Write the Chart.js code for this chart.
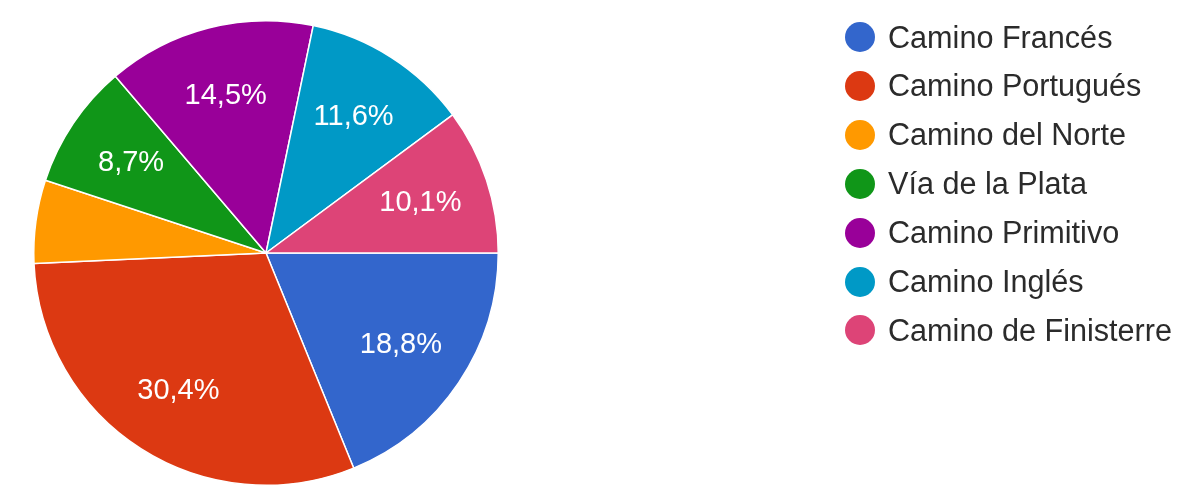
<!DOCTYPE html>
<html>
<head>
<meta charset="utf-8">
<script src="https://cdn.jsdelivr.net/npm/chart.js@4.4.0/dist/chart.umd.min.js"></script>
<style>
html,body{margin:0;padding:0;background:#fff;}
#wrap{position:relative;width:1200px;height:502px;overflow:hidden;}
#box{position:absolute;left:0;top:0;width:1200px;height:502px;}
#legend{position:absolute;left:845px;top:0;font-family:"Liberation Sans",Arial,sans-serif;font-size:30.6px;color:#2b2b2b;}
.item{position:absolute;left:0;height:40px;display:flex;align-items:center;white-space:nowrap;}
.dot{width:30px;height:30px;border-radius:50%;margin-right:13px;flex:none;}
</style>
</head>
<body>
<div id="wrap">
  <div id="box"><canvas id="c"></canvas></div>
  <div id="legend"></div>
</div>
<script>
const categories = ["Camino Francés","Camino Portugués","Camino del Norte","Vía de la Plata","Camino Primitivo","Camino Inglés","Camino de Finisterre"];
const counts = [13, 21, 4, 6, 10, 8, 7];
const colors = ["#3366cc","#dc3912","#ff9900","#109618","#990099","#0099c6","#dd4477"];

const total = counts.reduce((a, b) => a + b, 0);

const sliceLabels = {
  id: 'sliceLabels',
  afterDatasetsDraw(chart) {
    const ctx = chart.ctx;
    const meta = chart.getDatasetMeta(0);
    ctx.save();
    ctx.fillStyle = '#ffffff';
    ctx.font = '29px "Liberation Sans", Arial, sans-serif';
    ctx.textAlign = 'center';
    ctx.textBaseline = 'middle';
    meta.data.forEach((arc, i) => {
      const pct = counts[i] / total * 100;
      if (pct < 7) return;
      const p = arc.getProps(['startAngle','endAngle','outerRadius','x','y'], true);
      const mid = (p.startAngle + p.endAngle) / 2;
      const r = p.outerRadius * 0.7;
      ctx.fillText(pct.toFixed(1).replace('.', ',') + '%', p.x + Math.cos(mid) * r, p.y + Math.sin(mid) * r + 1);
    });
    ctx.restore();
  }
};

new Chart(document.getElementById('c'), {
  type: 'pie',
  data: {
    labels: categories,
    datasets: [{
      data: counts,
      backgroundColor: colors,
      borderColor: '#ffffff',
      borderWidth: 1.5
    }]
  },
  options: {
    responsive: true,
    maintainAspectRatio: false,
    animation: false,
    events: [],
    rotation: 90,
    layout: { padding: { left: 33, right: 701, top: 20, bottom: 16 } },
    plugins: {
      legend: { display: false },
      tooltip: { enabled: false }
    }
  },
  plugins: [sliceLabels]
});

const legend = document.getElementById('legend');
categories.forEach((name, i) => {
  const row = document.createElement('div');
  row.className = 'item';
  row.style.top = (37 + 48.9 * i - 20) + 'px';
  const dot = document.createElement('span');
  dot.className = 'dot';
  dot.style.background = colors[i];
  const txt = document.createElement('span');
  txt.textContent = name;
  row.appendChild(dot);
  row.appendChild(txt);
  legend.appendChild(row);
});
</script>
</body>
</html>
